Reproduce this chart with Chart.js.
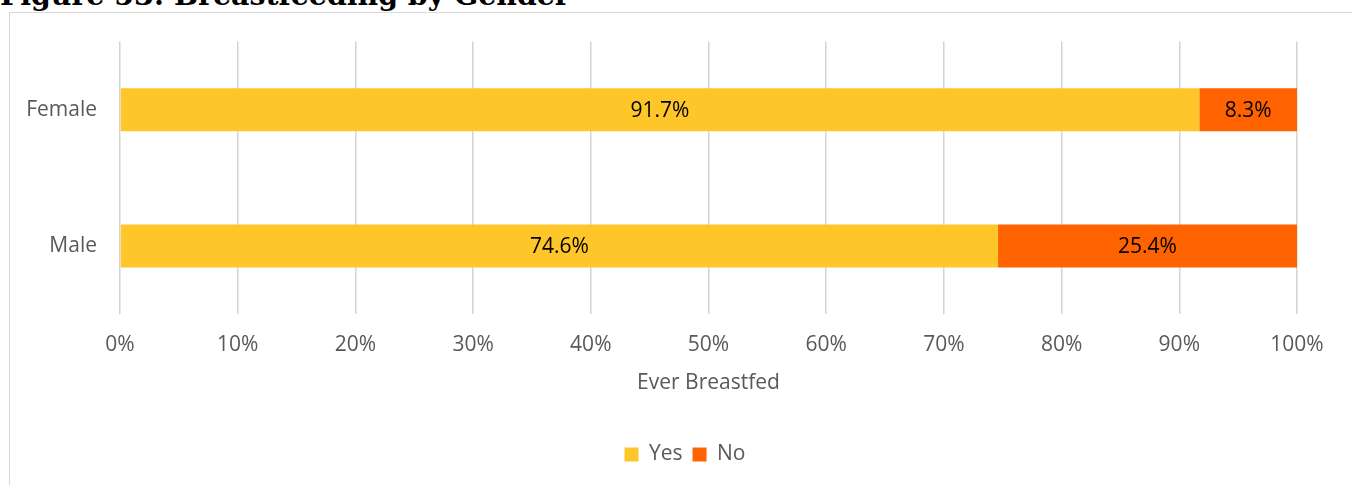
<!DOCTYPE html>
<html>
<head>
<meta charset="utf-8">
<script src="https://cdn.jsdelivr.net/npm/chart.js@4.4.1/dist/chart.umd.min.js"></script>
<style>
  html, body { margin:0; padding:0; background:#fff; width:1352px; height:485px; overflow:hidden; position:relative; }
  #title { position:absolute; left:0; top:0; font-family:"DejaVu Serif", serif; font-weight:bold; color:#000; white-space:nowrap; line-height:1; }
  #frame { position:absolute; left:9px; top:12px; width:1360px; height:490px; border-left:1.5px solid #D9D9D9; border-top:1.5px solid #D9D9D9; }
  #wrap { position:absolute; left:10px; top:6px; width:1350px; height:472px; }
</style>
</head>
<body>
<div id="title">Figure 53: Breastfeeding by Gender</div>
<div id="frame"></div>
<div id="wrap"><canvas id="c"></canvas></div>
<script>
const categories = ["Female", "Male"];
const yesValues = [91.7, 74.6];
const noValues = [8.3, 25.4];
const seriesNames = ["Yes", "No"];
const axisTitle = "Ever Breastfed";

(function(){
  const t = document.getElementById('title');
  const cv = document.createElement('canvas').getContext('2d');
  let size = 30;
  cv.font = 'bold ' + size + 'px "DejaVu Serif"';
  const w = cv.measureText(t.textContent).width;
  size = size * 570 / w;
  t.style.fontSize = size + 'px';
  cv.font = 'bold ' + size + 'px "DejaVu Serif"';
  const m = cv.measureText('Fg');
  const asc = m.fontBoundingBoxAscent || size*0.93;
  const desc = m.fontBoundingBoxDescent || size*0.24;
  const lh = size;
  const baselineOffset = (lh - (asc + desc)) / 2 + asc;
  t.style.top = (5 - baselineOffset) + 'px';
})();

const FONT = '"Open Sans", sans-serif';
const FS = 21;
const labelPlugin = {
  id: 'barLabels',
  afterDatasetsDraw(chart) {
    const ctx = chart.ctx;
    ctx.save();
    ctx.font = FS + 'px ' + FONT;
    ctx.fillStyle = '#000';
    ctx.textAlign = 'center';
    ctx.textBaseline = 'middle';
    chart.data.datasets.forEach((ds, di) => {
      const meta = chart.getDatasetMeta(di);
      meta.data.forEach((bar, i) => {
        const p = bar.getProps(['x','y','base'], true);
        const cx = (p.x + p.base) / 2;
        ctx.fillText(ds.data[i].toFixed(1) + '%', cx, p.y + 1);
      });
    });
    ctx.restore();
  }
};
const legendShift = {
  id: 'legendShift',
  afterLayout(chart) {
    if (chart.legend) chart.legend.left += 63;
  }
};

new Chart(document.getElementById('c'), {
  type: 'bar',
  data: {
    labels: categories,
    datasets: [
      { label: seriesNames[0], data: yesValues, backgroundColor: '#FFC629', borderWidth: 0, barPercentage: 0.316, categoryPercentage: 1 },
      { label: seriesNames[1], data: noValues, backgroundColor: '#FF6200', borderWidth: 0, barPercentage: 0.316, categoryPercentage: 1 }
    ]
  },
  options: {
    indexAxis: 'y',
    responsive: true,
    maintainAspectRatio: false,
    animation: false,
    layout: { padding: { top: 28, right: 63, left: 0, bottom: 3 } },
    plugins: {
      tooltip: { enabled: false },
      legend: {
        position: 'bottom',
        labels: { boxWidth: 14, boxHeight: 14, color: '#595959', font: { family: FONT, size: FS }, padding: 10 }
      }
    },
    scales: {
      x: {
        stacked: true, min: 0, max: 100,
        ticks: { stepSize: 10, color: '#595959', font: { family: FONT, size: FS }, padding: 18, callback: v => v + '%' },
        grid: { color: '#D4D4D4', lineWidth: 1.5, drawTicks: false },
        border: { display: false },
        title: { display: true, text: axisTitle, color: '#595959', font: { family: FONT, size: FS }, padding: { top: 4, bottom: 38 } },
        afterFit(scale) { scale.height = 120; }
      },
      y: {
        stacked: true,
        ticks: { color: '#595959', font: { family: FONT, size: FS }, padding: 23 },
        grid: { display: false, drawTicks: false },
        border: { display: false },
        afterFit(scale) { scale.width = 110; }
      }
    }
  },
  plugins: [labelPlugin, legendShift]
});
</script>
</body>
</html>
